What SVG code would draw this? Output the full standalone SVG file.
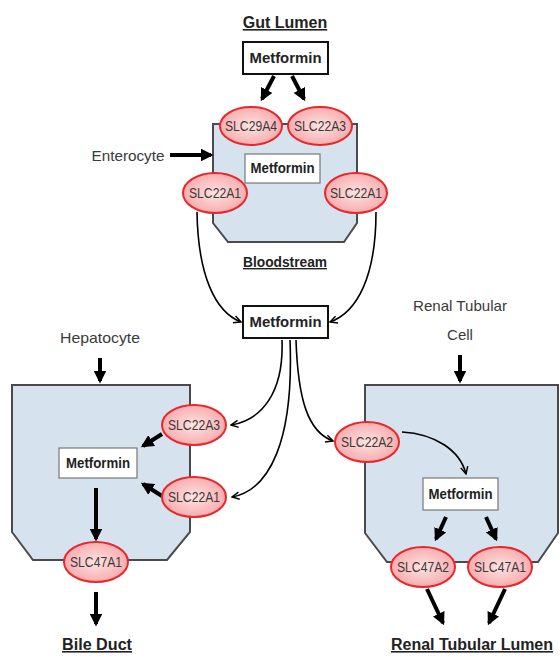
<svg xmlns="http://www.w3.org/2000/svg" width="560" height="659" viewBox="0 0 560 659">
<defs>
<radialGradient id="pink" cx="50%" cy="50%" r="60%">
<stop offset="0" stop-color="#fde3e3"/>
<stop offset="1" stop-color="#f7a2a4"/>
</radialGradient>
<marker id="head" viewBox="0 0 10 10" refX="8" refY="5" markerWidth="3.2" markerHeight="3.2" orient="auto">
<path d="M0,0 L10,5 L0,10 Z" fill="#000"/>
</marker>
<marker id="open" viewBox="0 0 10 10" refX="9" refY="5" markerWidth="9" markerHeight="9" markerUnits="userSpaceOnUse" orient="auto">
<path d="M1,1 L9,5 L1,9" fill="none" stroke="#000" stroke-width="1.6"/>
</marker>
</defs>
<style>
.cell{fill:#d6e2ed;stroke:#4a4a4a;stroke-width:2}
.tr{fill:url(#pink);stroke:#e8262b;stroke-width:2}
.trt{font-family:"Liberation Sans",Arial,sans-serif;font-size:14px;fill:#3a3a3a;text-anchor:middle}
.box{fill:#fff;stroke:#777;stroke-width:1.2}
.obox{fill:#fff;stroke:#111;stroke-width:2}
.met{font-family:"Liberation Sans",Arial,sans-serif;font-size:14px;font-weight:bold;fill:#222;text-anchor:middle}
.lab{font-family:"Liberation Sans",Arial,sans-serif;font-size:15px;fill:#3a3a3a;text-anchor:middle}
.title{font-family:"Liberation Sans",Arial,sans-serif;font-size:16px;font-weight:bold;fill:#222;text-anchor:middle;text-decoration:underline}
.thick{stroke:#000;stroke-width:4;fill:none;marker-end:url(#head)}
.curve{stroke:#000;stroke-width:1.6;fill:none;marker-end:url(#open)}
</style>

<g id="cells">
<polygon id="enterocyte-cell" class="cell" points="213,124 357,124 357,223 344,242 228,242 213,223"/>
<polygon id="hepatocyte-cell" class="cell" points="12,385 190,385 190,532 167,560 33,560 12,532"/>
<polygon id="renal-cell" class="cell" points="365,385 558,385 558,533 538,562 387,562 365,533"/>
</g>

<g id="connectors">
<line class="thick" x1="274" y1="76" x2="262" y2="99"/>
<line class="thick" x1="292" y1="76" x2="304" y2="99"/>
<line class="thick" x1="170" y1="155" x2="211" y2="155"/>
<path class="curve" d="M197,212 C198,275 215,312 241,322"/>
<path class="curve" d="M376,212 C376,275 358,312 330,322"/>
<path class="curve" d="M282,340 C284,392 262,420 231,425"/>
<path class="curve" d="M290,340 C294,440 270,490 232,497"/>
<path class="curve" d="M296,340 C298,400 308,432 333,441"/>
<line class="thick" x1="100" y1="358" x2="100" y2="381"/>
<line class="thick" x1="162" y1="434" x2="143" y2="446"/>
<line class="thick" x1="162" y1="496" x2="143" y2="484"/>
<line class="thick" x1="96" y1="488" x2="96" y2="539"/>
<line class="thick" x1="96" y1="592" x2="96" y2="624"/>
<line class="thick" x1="460" y1="355" x2="460" y2="381"/>
<path class="curve" d="M402,432 C435,434 460,450 466,474"/>
<line class="thick" x1="446" y1="517" x2="436" y2="539"/>
<line class="thick" x1="486" y1="517" x2="496" y2="539"/>
<line class="thick" x1="427" y1="589" x2="443" y2="623"/>
<line class="thick" x1="505" y1="589" x2="489" y2="623"/>
</g>

<g id="gut-lumen"><text class="title" x="285" y="28">Gut Lumen</text></g>
<g id="metformin-gut"><rect class="obox" x="243" y="42" width="85" height="32"/><text class="met" x="285.5" y="63" textLength="72" lengthAdjust="spacingAndGlyphs">Metformin</text></g>
<g id="enterocyte-label"><text class="lab" x="128" y="161" textLength="73" lengthAdjust="spacingAndGlyphs">Enterocyte</text></g>
<g id="metformin-enterocyte"><rect class="box" x="245" y="154" width="75" height="29"/><text class="met" x="282.5" y="173" textLength="64" lengthAdjust="spacingAndGlyphs">Metformin</text></g>
<g id="slc29a4"><ellipse class="tr" cx="251" cy="126" rx="31" ry="19"/><text class="trt" x="251" y="131" textLength="52" lengthAdjust="spacingAndGlyphs">SLC29A4</text></g>
<g id="slc22a3-gut"><ellipse class="tr" cx="320" cy="126" rx="32" ry="19"/><text class="trt" x="320" y="131" textLength="52" lengthAdjust="spacingAndGlyphs">SLC22A3</text></g>
<g id="slc22a1-ent-left"><ellipse class="tr" cx="215" cy="193" rx="32" ry="20"/><text class="trt" x="215" y="198" textLength="52" lengthAdjust="spacingAndGlyphs">SLC22A1</text></g>
<g id="slc22a1-ent-right"><ellipse class="tr" cx="356" cy="193" rx="31" ry="20"/><text class="trt" x="356" y="198" textLength="52" lengthAdjust="spacingAndGlyphs">SLC22A1</text></g>
<g id="bloodstream"><text class="title" x="285" y="267" style="font-size:14px" textLength="84" lengthAdjust="spacingAndGlyphs">Bloodstream</text></g>

<g id="metformin-blood"><rect class="obox" x="243" y="306" width="85" height="32"/><text class="met" x="285.5" y="327" textLength="72" lengthAdjust="spacingAndGlyphs">Metformin</text></g>

<g id="hepatocyte-label"><text class="lab" x="100" y="343" textLength="80" lengthAdjust="spacingAndGlyphs">Hepatocyte</text></g>
<g id="metformin-hep"><rect class="box" x="59" y="448" width="78" height="30"/><text class="met" x="98" y="468" textLength="64" lengthAdjust="spacingAndGlyphs">Metformin</text></g>
<g id="slc22a3-hep"><ellipse class="tr" cx="194" cy="425" rx="32" ry="20"/><text class="trt" x="194" y="430" textLength="52" lengthAdjust="spacingAndGlyphs">SLC22A3</text></g>
<g id="slc22a1-hep"><ellipse class="tr" cx="194" cy="497" rx="32" ry="20"/><text class="trt" x="194" y="502" textLength="52" lengthAdjust="spacingAndGlyphs">SLC22A1</text></g>
<g id="slc47a1-hep"><ellipse class="tr" cx="96" cy="562" rx="32" ry="20"/><text class="trt" x="96" y="567" textLength="52" lengthAdjust="spacingAndGlyphs">SLC47A1</text></g>
<g id="bile-duct"><text class="title" x="97" y="650" textLength="70" lengthAdjust="spacingAndGlyphs">Bile Duct</text></g>

<g id="renal-label"><text class="lab" x="460" y="311" textLength="94" lengthAdjust="spacingAndGlyphs">Renal Tubular</text><text class="lab" x="460" y="340">Cell</text></g>
<g id="slc22a2"><ellipse class="tr" cx="367" cy="442" rx="32" ry="20"/><text class="trt" x="367" y="447" textLength="52" lengthAdjust="spacingAndGlyphs">SLC22A2</text></g>
<g id="metformin-renal"><rect class="box" x="423" y="478" width="75" height="32"/><text class="met" x="460.5" y="499" textLength="64" lengthAdjust="spacingAndGlyphs">Metformin</text></g>
<g id="slc47a2"><ellipse class="tr" cx="423" cy="567" rx="32" ry="20"/><text class="trt" x="423" y="572" textLength="52" lengthAdjust="spacingAndGlyphs">SLC47A2</text></g>
<g id="slc47a1-renal"><ellipse class="tr" cx="500" cy="567" rx="32" ry="20"/><text class="trt" x="500" y="572" textLength="52" lengthAdjust="spacingAndGlyphs">SLC47A1</text></g>
<g id="renal-lumen"><text class="title" x="472" y="650" textLength="162" lengthAdjust="spacingAndGlyphs">Renal Tubular Lumen</text></g>
</svg>
